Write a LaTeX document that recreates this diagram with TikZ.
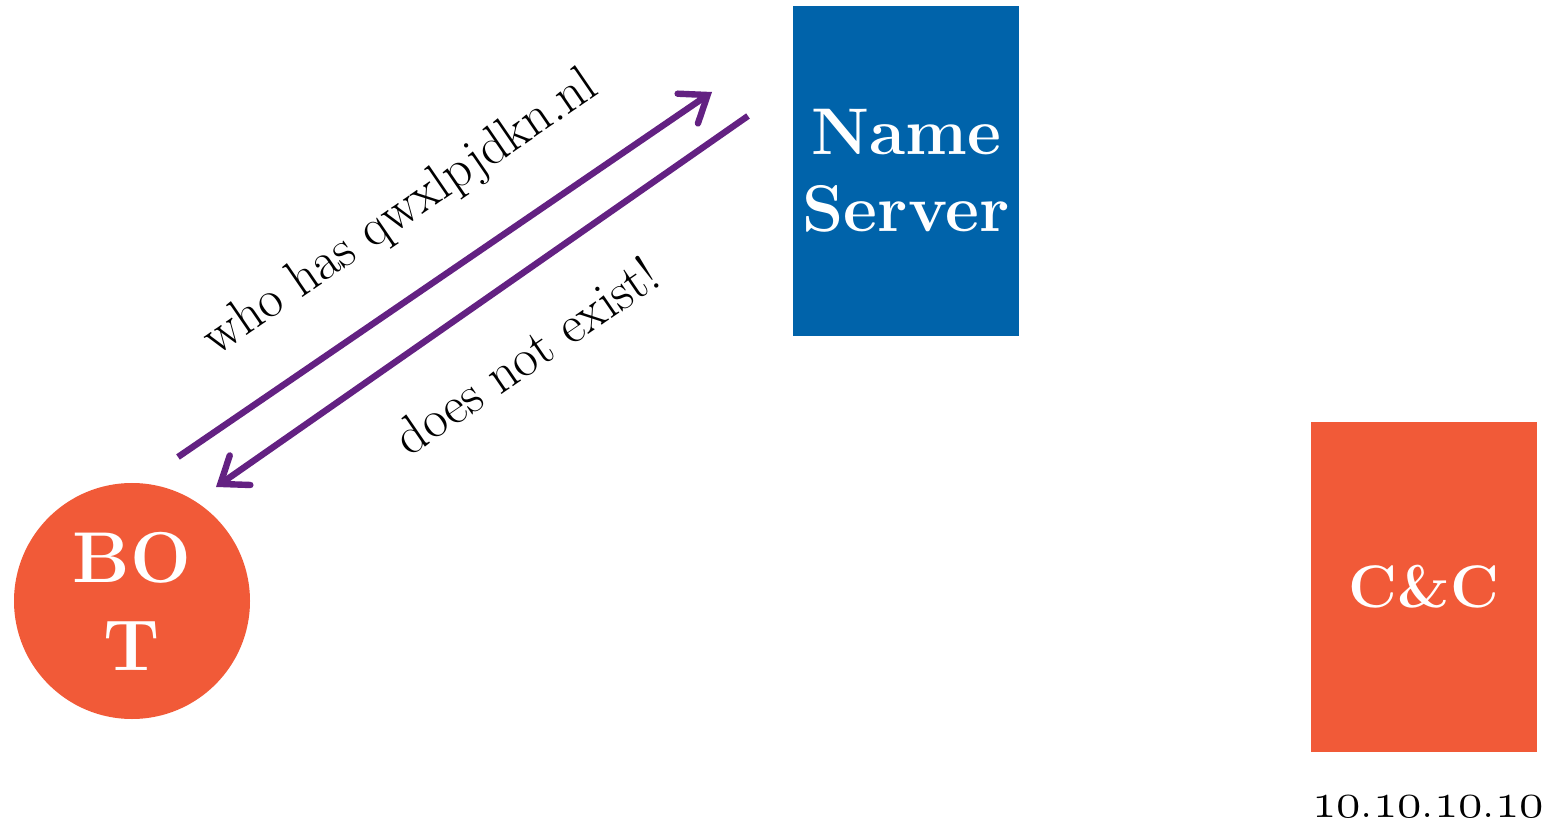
\documentclass[tikz,border=0pt]{standalone}
\usepackage{fontspec}
\usetikzlibrary{arrows.meta}
\definecolor{nsblue}{HTML}{0063AA}
\definecolor{botred}{HTML}{F15A38}
\definecolor{msgpurple}{HTML}{632182}
% old-style figures taken from the math italic font
\newcommand\osfig[1]{{\fontencoding{OML}\fontfamily{cmm}\fontseries{m}\fontshape{it}\selectfont #1}}
\tikzset{
  box/.style={fill=#1, draw=none, minimum width=113pt, minimum height=165pt,
              inner sep=0pt, text=white, font=\bfseries, align=center},
  msg/.style={line width=3.2pt, draw=msgpurple,
              -{Straight Barb[length=12pt,width=18pt,line cap=round,line join=miter]}},
  lbl/.style={font=\fontsize{26.5}{31}\selectfont, rotate=34.4, inner sep=0pt},
}
\begin{document}
\begin{tikzpicture}[x=0.5pt, y=-0.5pt]
  \useasboundingbox (0,0) rectangle (1550,822);

  % DNS name server
  \node[box=nsblue, font=\fontsize{33}{38.5}\selectfont\bfseries] (ns) at (906,171)
    {Name\\Server};

  % infected host
  \node[circle, fill=botred, minimum size=118pt, inner sep=0pt, text=white,
        font=\fontsize{36}{44}\selectfont\bfseries, align=center] (bot) at (132,601)
    {BO\\T};

  % command and control server
  \node[box=botred, font=\fontsize{30}{36}\selectfont\bfseries] (cc) at (1424,587) {C\&C};
  \node[font=\fontsize{24.5}{30}\selectfont, anchor=base, inner sep=0pt]
    (ip) at (1428,817) {\osfig{10}.\osfig{10}.\osfig{10}.\osfig{10}};

  % query and reply
  \coordinate (q1) at (178,457);
  \coordinate (q2) at (712,92);
  \coordinate (r1) at (748,116);
  \coordinate (r2) at (216,487);
  \draw[msg] (q1) -- (q2);
  \draw[msg] (r1) -- (r2);

  \node[lbl] (qtxt) at (401,214) {who has qwxlpjdkn.nl};
  \node[lbl] (rtxt) at (526,355) {does not exist!};
\end{tikzpicture}
\end{document}
